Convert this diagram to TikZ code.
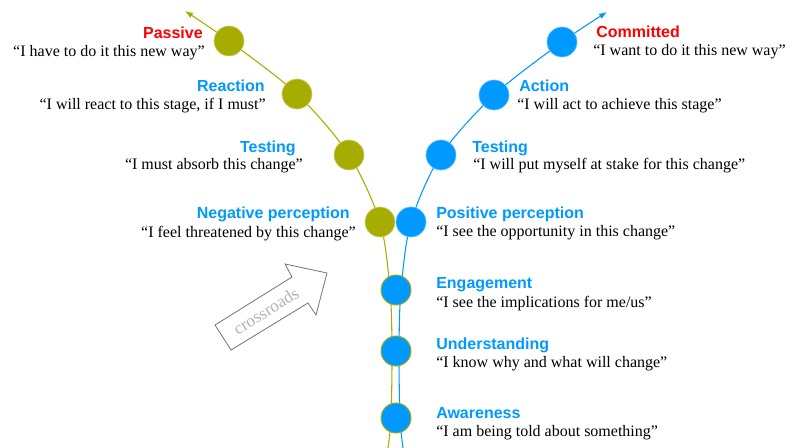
\documentclass[tikz,border=0pt]{standalone}
\usepackage{fontspec}
\setmainfont{Liberation Serif}
\setsansfont{Liberation Sans}
\usepackage{tikz}
\usetikzlibrary{arrows.meta}
\definecolor{oldolive}{RGB}{166,173,0}
\definecolor{newblue}{RGB}{0,153,255}
\definecolor{endred}{RGB}{255,0,0}

\begin{document}
\begin{tikzpicture}[x=0.75pt,y=-0.75pt,
    stage/.style={circle,inner sep=0pt,minimum size=22.5pt,line width=0.5pt},
    oldstage/.style={stage,fill=oldolive,draw=oldolive!55},
    newstage/.style={stage,fill=newblue,draw=newblue!60},
    sharedstage/.style={stage,fill=newblue,draw=oldolive,line width=0.7pt},
    track/.style={line width=0.8pt,-{Latex[length=6pt,width=4.5pt]}},
    title/.style={font=\sffamily\bfseries\fontsize{12}{14}\selectfont,text=newblue,inner sep=0pt},
    endtitle/.style={title,text=endred},
    saying/.style={font=\fontsize{12}{14}\selectfont,inner sep=0pt},
    crossarrow/.style={draw=black!55,line width=0.6pt}]
  \useasboundingbox (0,0) rectangle (787,448);

  %% ---- points the two roads pass through ----
  \coordinate (o-foot) at (388,448);
  \coordinate (o-aw) at (391,418);
  \coordinate (o-un) at (392,351);
  \coordinate (o-en) at (390,290);
  \coordinate (negative) at (380,222);
  \coordinate (o-testing) at (349,155);
  \coordinate (reaction) at (297,94);
  \coordinate (passive) at (229,41);
  \coordinate (o-end) at (185,11);

  \coordinate (b-foot) at (403,448);
  \coordinate (b-aw) at (400,418);
  \coordinate (b-un) at (399,351);
  \coordinate (b-en) at (401,290);
  \coordinate (positive) at (411,222);
  \coordinate (b-testing) at (441,155);
  \coordinate (action) at (494,95);
  \coordinate (committed) at (562,42);
  \coordinate (b-end) at (607,12);

  %% ---- the two roads ----
  \draw[track,oldolive] plot[smooth,tension=0.5] coordinates {(o-foot) (o-aw) (o-un) (o-en)
    (negative) (o-testing) (reaction) (passive) (o-end)};
  \draw[track,newblue] plot[smooth,tension=0.5] coordinates {(b-foot) (b-aw) (b-un) (b-en)
    (positive) (b-testing) (action) (committed) (b-end)};

  %% ---- shared stages on the trunk ----
  \node[sharedstage] (s-awareness) at (396,418) {};
  \node[sharedstage] (s-understanding) at (396,351) {};
  \node[sharedstage] (s-engagement) at (396,290) {};

  %% ---- left branch ----
  \node[oldstage] (s-negative) at (negative) {};
  \node[oldstage] (s-otesting) at (o-testing) {};
  \node[oldstage] (s-reaction) at (reaction) {};
  \node[oldstage] (s-passive) at (passive) {};

  %% ---- right branch ----
  \node[newstage] (s-positive) at (positive) {};
  \node[newstage] (s-btesting) at (b-testing) {};
  \node[newstage] (s-action) at (action) {};
  \node[newstage] (s-committed) at (committed) {};

  %% ---- labels, left side ----
  \node[endtitle,anchor=base east] (t-passive) at (203,39) {Passive};
  \node[saying,anchor=base east] (q-passive) at (205,57) {“I have to do it this new way”};
  \node[title,anchor=base east] (t-reaction) at (265,92) {Reaction};
  \node[saying,anchor=base east] (q-reaction) at (266,110) {“I will react to this stage, if I must”};
  \node[title,anchor=base east] (t-otesting) at (296,153) {Testing};
  \node[saying,anchor=base east] (q-otesting) at (303,170) {“I must absorb this change”};
  \node[title,anchor=base east] (t-negative) at (350,219) {Negative perception};
  \node[saying,anchor=base east] (q-negative) at (356,238) {“I feel threatened by this change”};

  %% ---- labels, right side ----
  \node[endtitle,anchor=base west] (t-committed) at (596,38) {Committed};
  \node[saying,anchor=base west] (q-committed) at (593,56) {“I want to do it this new way”};
  \node[title,anchor=base west] (t-action) at (519,92) {Action};
  \node[saying,anchor=base west] (q-action) at (517,110) {“I will act to achieve this stage”};
  \node[title,anchor=base west] (t-btesting) at (472,153) {Testing};
  \node[saying,anchor=base west] (q-btesting) at (473,170) {“I will put myself at stake for this change”};
  \node[title,anchor=base west] (t-positive) at (436,219) {Positive perception};
  \node[saying,anchor=base west] (q-positive) at (436,237) {“I see the opportunity in this change”};
  \node[title,anchor=base west] (t-engagement) at (436,289) {Engagement};
  \node[saying,anchor=base west] (q-engagement) at (436,307) {“I see the implications for me/us”};
  \node[title,anchor=base west] (t-understanding) at (436,349) {Understanding};
  \node[saying,anchor=base west] (q-understanding) at (436,367) {“I know why and what will change”};
  \node[title,anchor=base west] (t-awareness) at (436,418) {Awareness};
  \node[saying,anchor=base west] (q-awareness) at (436,436) {“I am being told about something”};

  %% ---- crossroads arrow ----
  \draw[crossarrow] (231,350) -- (215,325) -- (292,277) -- (285,264) -- (327,273)
    -- (316,315) -- (308,303) -- cycle;
  \node[saying,text=black!30,rotate=31.6,font=\fontsize{13}{14}\selectfont] (crossroads) at (266,311) {crossroads};
\end{tikzpicture}
\end{document}
